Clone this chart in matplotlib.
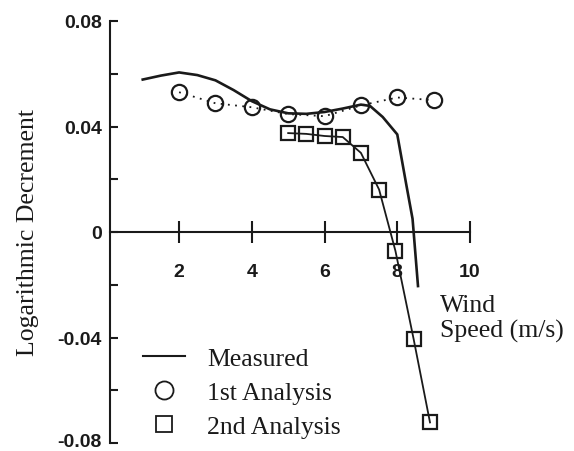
import matplotlib
matplotlib.use("Agg")
import matplotlib.pyplot as plt
import matplotlib.transforms as mtransforms
from matplotlib.lines import Line2D

# Data
measured_x = [1.0, 1.5, 2.0, 2.5, 3.0, 3.5, 4.0, 4.5, 5.0, 5.5, 6.0, 6.5, 7.0, 7.25, 7.6, 8.0, 8.25, 8.42, 8.45, 8.57]
measured_y = [0.0578, 0.0593, 0.0605, 0.0595, 0.0575, 0.0538, 0.0496, 0.0465, 0.0450, 0.0448, 0.0455, 0.0468, 0.0483, 0.0478, 0.0436, 0.0370, 0.0178, 0.0050, 0.0, -0.0205]

first_x = [2, 3, 4, 5, 6, 7, 8, 9]
first_y = [0.0530, 0.0488, 0.0473, 0.0447, 0.0439, 0.0480, 0.0510, 0.0500]

second_x = [5.0, 5.5, 6.0, 6.5, 7.0, 7.5, 7.95, 8.45, 8.9]
second_y = [0.0375, 0.0372, 0.0364, 0.0360, 0.0300, 0.0161, -0.0072, -0.0406, -0.0722]

xticks = [2, 4, 6, 8, 10]
yticks = [-0.08, -0.06, -0.04, -0.02, 0, 0.02, 0.04, 0.06, 0.08]
ytick_labels = ["-0.08", "", "-0.04", "", "0", "", "0.04", "", "0.08"]

W, H = 574, 452
fig = plt.figure(figsize=(W / 100, H / 100), dpi=100)
left, right, top, bottom = 110, 470, 22, 444
ax = fig.add_axes([left / W, 1 - bottom / H, (right - left) / W, (bottom - top) / H])

serif = "Liberation Serif"
sans = "Liberation Sans"
ink = "#1a1a1a"

ax.plot(measured_x, measured_y, color=ink, lw=1.9, solid_joinstyle="round", clip_on=False)
ax.plot(first_x, first_y, color=ink, lw=1.3, ls=(0, (1, 3)), marker="o", ms=11,
        mfc="none", mec=ink, mew=1.6, clip_on=False)
ax.plot(second_x, second_y, color=ink, lw=1.3, marker="s", ms=10,
        mfc="none", mec=ink, mew=1.6, clip_on=False)

ax.set_xlim(0.1, 10)
ax.set_ylim(-0.08, 0.08)
ax.spines["top"].set_visible(False)
ax.spines["right"].set_visible(False)
ax.spines["bottom"].set_position(("data", 0))
for s in ("left", "bottom"):
    ax.spines[s].set_linewidth(1.5)
    ax.spines[s].set_color(ink)

ax.set_xticks(xticks)
ax.set_xticklabels([str(t) for t in xticks], fontfamily=sans, fontsize=14, fontweight="bold")
ax.tick_params(axis="x", direction="inout", length=16, width=1.5, pad=14, colors=ink)
ax.set_yticks(yticks)
ax.set_yticklabels(ytick_labels, fontfamily=sans, fontsize=14, fontweight="bold")
ax.tick_params(axis="y", direction="in", length=6, width=1.5, pad=6, colors=ink)
lab = ax.get_yticklabels()[0]
lab.set_transform(lab.get_transform() + mtransforms.ScaledTranslation(0, 3 / 100, fig.dpi_scale_trans))

ax.set_ylabel("Logarithmic Decrement", fontfamily=serif, fontsize=18.5, color=ink, labelpad=13)

ax.text(9.17, -0.0325, "Wind\nSpeed (m/s)", fontfamily=serif, fontsize=18.5, color=ink,
        ha="left", va="center", linespacing=1.15)

handles = [
    Line2D([], [], color=ink, lw=1.5),
    Line2D([], [], ls="none", marker="o", ms=13, mfc="none", mec=ink, mew=1.3),
    Line2D([], [], ls="none", marker="s", ms=12, mfc="none", mec=ink, mew=1.3),
]
leg = ax.legend(handles, ["Measured", "1st Analysis", "2nd Analysis"],
                loc="upper left", bbox_to_anchor=(143 / W, 1 - 348 / H),
                bbox_transform=fig.transFigure, frameon=False,
                prop={"family": serif, "size": 18.5}, handlelength=1.63,
                handletextpad=0.86, labelspacing=0.42, borderpad=0, borderaxespad=0)
for t in leg.get_texts():
    t.set_color(ink)

fig.savefig("out.png", dpi=100)
